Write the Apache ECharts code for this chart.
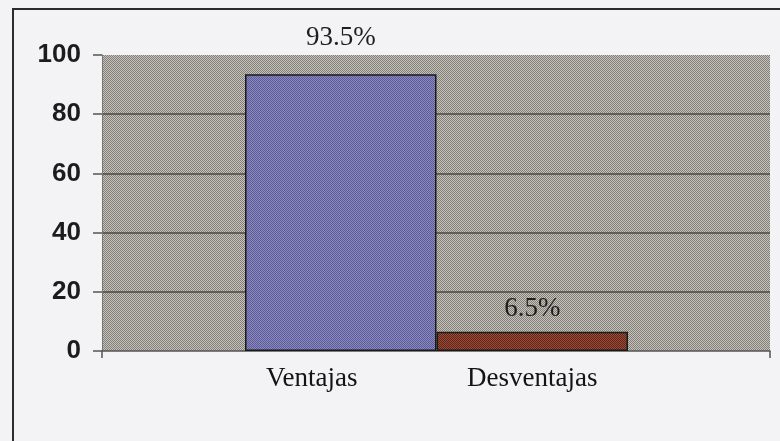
<!DOCTYPE html>
<html>
<head>
<meta charset="utf-8">
<script src="https://cdn.jsdelivr.net/npm/echarts@6/dist/echarts.min.js"></script>
<style>
  html, body {
    margin: 0;
    padding: 0;
    background: #f3f3f5;
  }
  .box {
    position: relative;
    width: 780px;
    height: 441px;
    overflow: hidden;
  }
  .frame {
    position: absolute;
    left: 12px;
    top: 8px;
    width: 820px;
    height: 500px;
    border-left: 2px solid #2b2b2b;
    border-top: 2px solid #2b2b2b;
  }
  .chart {
    position: absolute;
    left: 0;
    top: 0;
    width: 780px;
    height: 441px;
  }
</style>
</head>
<body>
<div class="box">
  <div class="frame"></div>
  <div class="chart" id="chart"></div>
</div>
<script>
// datos del grafico
const categories = ['Ventajas', 'Desventajas']
const values = [93.5, 6.5]
const yTicks = [0, 20, 40, 60, 80, 100]

// estilos por barra (trama de puntos como en el original)
const barTones = [['#5b5a92', '#8b8ac2'], ['#5f251a', '#9a4c37']]
const labelGap = [23, 9]

// pequeño patron de tablero para imitar la trama impresa
function dotPattern (dark, light) {
  const c = document.createElement('canvas')
  c.width = 2
  c.height = 2
  const ctx = c.getContext('2d')
  ctx.fillStyle = light
  ctx.fillRect(0, 0, 2, 2)
  ctx.fillStyle = dark
  ctx.fillRect(0, 0, 1, 1)
  ctx.fillRect(1, 1, 1, 1)
  return { image: c, repeat: 'repeat' }
}

const instance = echarts.init(document.getElementById('chart'), null, { renderer: 'canvas' })

const serifFont = '"Liberation Serif", "Times New Roman", serif'
const sansFont = '"Liberation Sans", Arial, sans-serif'

instance.setOption({
  animation: false,
  grid: [
    {
      // area de fondo con las lineas
      left: 102, right: 10, top: 55, bottom: 90,
      show: true,
      backgroundColor: dotPattern('#807e77', '#c6c4bc'),
      borderWidth: 0
    },
    {
      // area de las barras
      left: 245, right: 152, top: 55, bottom: 90
    }
  ],
  xAxis: [
    {
      gridIndex: 0,
      type: 'value',
      min: 0,
      max: 1,
      interval: 1,
      axisLine: { show: true, lineStyle: { color: '#555', width: 1.5 } },
      axisTick: { show: true, length: 7, lineStyle: { color: '#555', width: 1.5 } },
      axisLabel: { show: false },
      splitLine: { show: false }
    },
    {
      gridIndex: 1,
      type: 'category',
      data: categories,
      axisLine: { show: false },
      axisTick: { show: false },
      axisLabel: {
        margin: 14,
        color: '#141414',
        fontFamily: serifFont,
        fontSize: 27,
        formatter: v => v === categories[0] ? '{v|' + v + '}' : v,
        rich: {
          v: {
            fontFamily: serifFont,
            fontSize: 27,
            color: '#141414',
            padding: [0, 58, 0, 0]
          }
        }
      }
    }
  ],
  yAxis: [
    {
      gridIndex: 0,
      type: 'value',
      min: yTicks[0],
      max: yTicks[yTicks.length - 1],
      interval: yTicks[1] - yTicks[0],
      axisLine: { show: true, lineStyle: { color: '#777', width: 1 } },
      axisTick: { show: true, length: 9, lineStyle: { color: '#555', width: 1.5 } },
      axisLabel: {
        margin: 21,
        color: '#1c1c1c',
        fontFamily: sansFont,
        fontWeight: 'bold',
        fontSize: 26
      },
      splitLine: {
        show: true,
        showMinLine: false,
        showMaxLine: false,
        lineStyle: { color: '#4b4a40', width: 1.5 }
      }
    },
    {
      gridIndex: 1,
      type: 'value',
      min: yTicks[0],
      max: yTicks[yTicks.length - 1],
      show: false
    }
  ],
  series: [{
    type: 'bar',
    xAxisIndex: 1,
    yAxisIndex: 1,
    barCategoryGap: '0%',
    data: values.map((v, i) => ({
      value: v,
      itemStyle: {
        color: dotPattern(barTones[i][0], barTones[i][1]),
        borderColor: '#1a1a1a',
        borderWidth: 1.5
      },
      label: { distance: labelGap[i] }
    })),
    label: {
      show: true,
      position: 'top',
      color: '#1e1e1e',
      fontFamily: serifFont,
      fontSize: 27,
      formatter: p => p.value + '%'
    }
  }]
})
</script>
</body>
</html>
